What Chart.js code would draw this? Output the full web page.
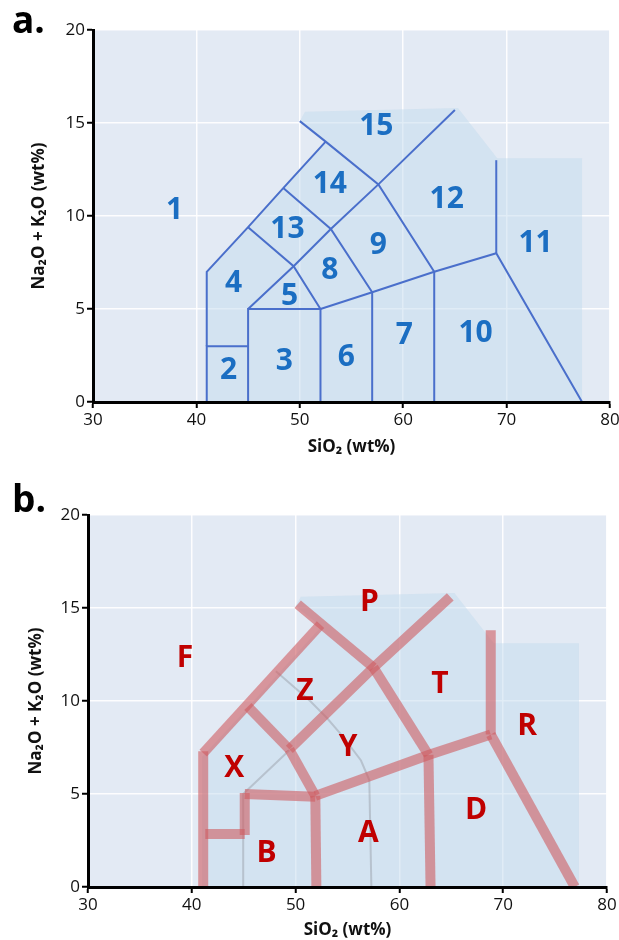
<!DOCTYPE html>
<html>
<head>
<meta charset="utf-8">
<title>TAS diagrams</title>
<script src="https://cdn.jsdelivr.net/npm/chart.js@4.4.1/dist/chart.umd.min.js"></script>
<style>
  html, body { margin: 0; padding: 0; background: #fff; }
  body { width: 619px; height: 940px; position: relative; overflow: hidden; font-family: 'Open Sans', sans-serif; }
  .panel { position: absolute; left: 0; width: 619px; height: 470px; }
  .panel-tag { position: absolute; left: 12px; font-weight: 700; font-size: 37px; line-height: 36px; color: #000; }
</style>
</head>
<body>
<div class="panel" style="top:0"><canvas id="chartA"></canvas></div>
<div class="panel" style="top:470px"><canvas id="chartB"></canvas></div>
<div class="panel-tag" style="top:1px">a.</div>
<div class="panel-tag" style="top:480px">b.</div>

<script>
// axis ticks
const silicaTicks = [30, 40, 50, 60, 70, 80];
const alkaliTicks = [0, 5, 10, 15, 20];

// shaded field behind the classification (both panels)
const shadedField = [[41, 0], [41, 7], [45, 9.4], [48.4, 11.5], [52.5, 14], [50, 15.1], [50.5, 15.6],
  [65.3, 15.8], [69.1, 13.1], [77.3, 13.1], [77.3, 0], [41, 0]];

// panel a: field boundaries
const boundaryA = [
  [[41, 0], [41, 3], [45, 3]],
  [[41, 3], [41, 7], [45, 9.4], [48.4, 11.5], [52.5, 14]],
  [[45, 0], [45, 5], [52, 5], [52, 0]],
  [[45, 5], [49.4, 7.3], [53, 9.3], [57.6, 11.7], [65, 15.7]],
  [[52, 5], [57, 5.9], [63, 7], [69, 8], [77.3, 0]],
  [[57, 0], [57, 5.9], [53, 9.3], [48.4, 11.5]],
  [[63, 0], [63, 7], [57.6, 11.7], [52.5, 14], [50, 15.1]],
  [[69, 8], [69, 13]],
  [[52, 5], [49.4, 7.3], [45, 9.4]]
];
const fieldNumbers = ['1', '2', '3', '4', '5', '6', '7', '8', '9', '10', '11', '12', '13', '14', '15'];
const numberX = [37.9, 43.1, 48.5, 43.6, 49.0, 54.5, 60.1, 52.9, 57.6, 67.0, 72.8, 64.2, 48.8, 52.9, 57.4];
const numberY = [10.3, 1.7, 2.2, 6.35, 5.7, 2.4, 3.6, 7.05, 8.4, 3.7, 8.5, 10.9, 9.25, 11.7, 14.8];

// panel b: redrawn boundaries (thick) and faint guide lines
const boundaryB = [
  [[41.1, 0], [41.1, 7.3]],
  [[41.1, 7.2], [52.4, 14.1]],
  [[50.2, 15.2], [57.5, 11.8]],
  [[57.5, 11.8], [62.8, 7.1]],
  [[62.8, 7.1], [63.0, 0]],
  [[45.4, 9.7], [49.4, 7.4]],
  [[49.4, 7.4], [51.9, 4.9]],
  [[49.4, 7.4], [57.5, 11.8], [64.9, 15.6]],
  [[51.9, 4.9], [62.8, 7.1], [68.8, 8.2]],
  [[68.8, 8.2], [68.8, 13.8]],
  [[68.8, 8.2], [76.9, 0]],
  [[51.9, 4.9], [52.0, 0]],
  [[45.1, 5.0], [51.9, 4.85]],
  [[45.1, 5.05], [45.1, 2.8]],
  [[41.3, 2.85], [45.1, 2.85]]
];
const guideB = [
  [[44.95, 0], [44.95, 5.0], [49.4, 7.35]],
  [[48.1, 11.6], [51.4, 10.0], [53.0, 9.1], [54.6, 8.06], [56.3, 6.8], [57.1, 5.75], [57.3, 0]]
];
const fieldLetters = ['F', 'P', 'Z', 'T', 'R', 'X', 'Y', 'D', 'A', 'B'];
const letterX = [39.35, 57.1, 50.9, 63.9, 72.3, 44.1, 55.05, 67.4, 57.0, 47.2];
const letterY = [12.3, 15.3, 10.5, 10.9, 8.65, 6.4, 7.5, 4.1, 2.9, 1.8];

const FONT = "'Open Sans', sans-serif";

function toPoints(line) {
  return line.map(function (p) { return { x: p[0], y: p[1] }; });
}

function lineSet(line, color, width, order) {
  return {
    data: toPoints(line),
    borderColor: color,
    borderWidth: width,
    borderCapStyle: 'butt',
    borderJoinStyle: 'miter',
    pointRadius: 0,
    fill: false,
    tension: 0,
    clip: 0,
    order: order
  };
}

// plot background + region labels
const panelPlugin = {
  id: 'panelPlugin',
  beforeDraw: function (chart) {
    const a = chart.chartArea;
    const ctx = chart.ctx;
    ctx.save();
    ctx.fillStyle = '#e3eaf4';
    ctx.fillRect(a.left, a.top, a.right - a.left, a.bottom - a.top);
    ctx.restore();
  },
  afterDatasetsDraw: function (chart, args, opts) {
    const ctx = chart.ctx;
    const xs = chart.scales.x, ys = chart.scales.y;
    ctx.save();
    ctx.fillStyle = opts.color;
    ctx.font = 'bold ' + opts.size + 'px ' + FONT;
    ctx.textAlign = 'center';
    ctx.textBaseline = 'middle';
    opts.text.forEach(function (t, i) {
      ctx.fillText(t, xs.getPixelForValue(opts.xs[i]), ys.getPixelForValue(opts.ys[i]));
    });
    ctx.restore();
  }
};

function makePanel(id, datasets, labels, layout) {
  new Chart(document.getElementById(id), {
    type: 'line',
    data: { datasets: datasets },
    plugins: [panelPlugin],
    options: {
      responsive: true,
      maintainAspectRatio: false,
      animation: false,
      events: [],
      layout: { padding: layout.padding },
      plugins: {
        legend: { display: false },
        tooltip: { enabled: false },
        panelPlugin: labels
      },
      scales: {
        x: {
          type: 'linear',
          min: silicaTicks[0],
          max: silicaTicks[silicaTicks.length - 1],
          ticks: { stepSize: 10, color: '#111', font: { family: FONT, size: 17 }, padding: 2, maxRotation: 0 },
          grid: { color: 'rgba(255,255,255,0.9)', lineWidth: 1.5, tickColor: '#000', tickLength: 6, tickWidth: 2 },
          border: { color: '#000', width: 3, z: 2 },
          title: {
            display: true, text: 'SiO₂ (wt%)', color: '#111',
            font: { family: FONT, size: 17, weight: 'bold' },
            padding: { top: 0, bottom: layout.xTitlePad }
          },
          afterFit: function (s) {
            s.height = layout.xHeight;
            s.paddingLeft = 0;
            s.paddingRight = 0;
          }
        },
        y: {
          type: 'linear',
          min: alkaliTicks[0],
          max: alkaliTicks[alkaliTicks.length - 1],
          ticks: { stepSize: 5, color: '#111', font: { family: FONT, size: 17 }, padding: 2 },
          grid: { color: 'rgba(255,255,255,0.9)', lineWidth: 1.5, tickColor: '#000', tickLength: 6, tickWidth: 2 },
          border: { color: '#000', width: 3, z: 2 },
          title: {
            display: true, text: 'Na₂O + K₂O (wt%)', color: '#111',
            font: { family: FONT, size: 17, weight: 'bold' },
            padding: { top: layout.yTitlePad, bottom: 0 }
          },
          afterFit: function (s) {
            s.width = layout.yWidth;
            s.paddingTop = 0;
            s.paddingBottom = 0;
          }
        }
      }
    }
  });
}

function shadeSet() {
  return {
    data: toPoints(shadedField),
    fill: 'shape',
    backgroundColor: 'rgba(196,220,237,0.5)',
    borderWidth: 0,
    pointRadius: 0,
    tension: 0,
    order: 10
  };
}

// panel a
const setsA = [shadeSet()].concat(boundaryA.map(function (l) {
  return lineSet(l, '#4a6fcb', 2, 1);
}));
makePanel('chartA', setsA,
  { text: fieldNumbers, xs: numberX, ys: numberY, color: '#1b6ec2', size: 30 },
  { padding: { top: 30, right: 9, bottom: 9, left: 0 }, xHeight: 59, yWidth: 93, xTitlePad: 4, yTitlePad: 29 });

// panel b
const setsB = [shadeSet()]
  .concat(guideB.map(function (l) { return lineSet(l, 'rgba(120,120,125,0.3)', 2, 5); }))
  .concat(boundaryB.map(function (l) { return lineSet(l, 'rgba(207,92,96,0.6)', 10, 1); }));
makePanel('chartB', setsB,
  { text: fieldLetters, xs: letterX, ys: letterY, color: '#c00000', size: 30 },
  { padding: { top: 45, right: 12, bottom: 0, left: 0 }, xHeight: 53, yWidth: 88, xTitlePad: 0, yTitlePad: 26 });
</script>
</body>
</html>
